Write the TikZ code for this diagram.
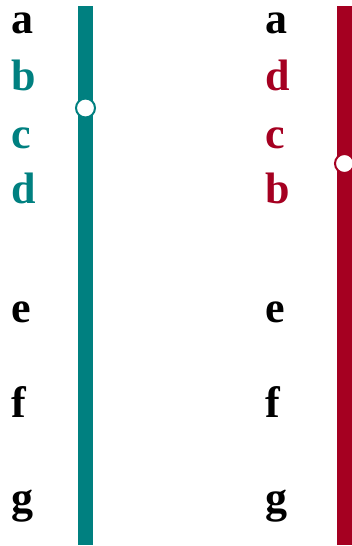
\documentclass[tikz,border=0pt]{standalone}
\usepackage{fontspec}
\setmainfont{Liberation Serif}
\definecolor{tealc}{RGB}{0,128,128}
\definecolor{redc}{RGB}{165,0,33}
\begin{document}
\begin{tikzpicture}[x=1pt,y=-1pt,
  lab/.style={anchor=base west,inner sep=0pt,font=\fontsize{44}{44}\selectfont\bfseries},
  bar/.style={line width=15pt},
  stop/.style={circle,draw,line width=2pt,fill=white,minimum size=19pt,inner sep=0pt}]
\useasboundingbox (0,0) rectangle (352,546);
% left column
\node[lab] (la) at (11,33) {a};
\node[lab,text=tealc] (lb) at (11,90) {b};
\node[lab,text=tealc] (lc) at (11,148) {c};
\node[lab,text=tealc] (ld) at (11,203) {d};
\node[lab] (le) at (11,322) {e};
\node[lab] (lf) at (11,417) {f};
\node[lab] (lg) at (11,512) {g};
\coordinate (ltop) at (85.5,6);
\coordinate (lbot) at (85.5,545);
\draw[bar,tealc] (ltop) -- (lbot);
\node[stop,draw=tealc] (lstop) at (85.5,108) {};
% right column
\node[lab] (ra) at (265,33) {a};
\node[lab,text=redc] (rd) at (265,90) {d};
\node[lab,text=redc] (rc) at (265,148) {c};
\node[lab,text=redc] (rb) at (265,203) {b};
\node[lab] (re) at (265,322) {e};
\node[lab] (rf) at (265,417) {f};
\node[lab] (rg) at (265,512) {g};
\coordinate (rtop) at (344.5,6);
\coordinate (rbot) at (344.5,545);
\draw[bar,redc] (rtop) -- (rbot);
\node[stop,draw=redc] (rstop) at (344.5,163.5) {};
\end{tikzpicture}
\end{document}
